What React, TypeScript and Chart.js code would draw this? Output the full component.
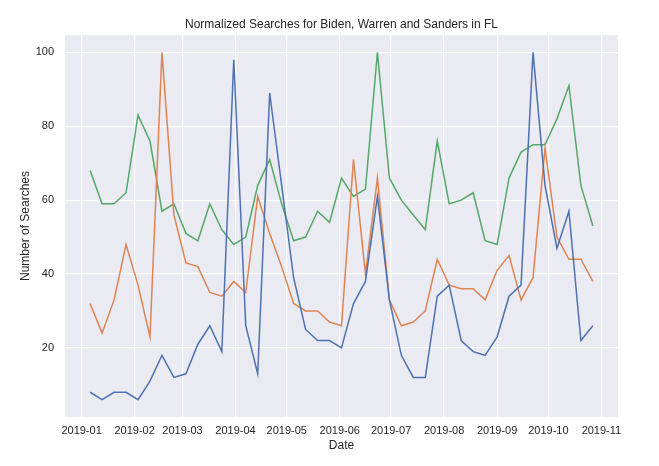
import React, { useEffect, useRef } from "react";
import { Chart, registerables } from "chart.js";

Chart.register(...registerables);

// weekly Google Trends dates (week start)
const weeks: string[] = [
  "2019-01-06", "2019-01-13", "2019-01-20", "2019-01-27", "2019-02-03",
  "2019-02-10", "2019-02-17", "2019-02-24", "2019-03-03", "2019-03-10",
  "2019-03-17", "2019-03-24", "2019-03-31", "2019-04-07", "2019-04-14",
  "2019-04-21", "2019-04-28", "2019-05-05", "2019-05-12", "2019-05-19",
  "2019-05-26", "2019-06-02", "2019-06-09", "2019-06-16", "2019-06-23",
  "2019-06-30", "2019-07-07", "2019-07-14", "2019-07-21", "2019-07-28",
  "2019-08-04", "2019-08-11", "2019-08-18", "2019-08-25", "2019-09-01",
  "2019-09-08", "2019-09-15", "2019-09-22", "2019-09-29", "2019-10-06",
  "2019-10-13", "2019-10-20", "2019-10-27",
];

const biden: number[] = [
  8, 6, 8, 8, 6, 11, 18, 12, 13, 21, 26, 19, 98, 26, 13, 89, 64, 39, 25, 22,
  22, 20, 32, 38, 61, 33, 18, 12, 12, 34, 37, 22, 19, 18, 23, 34, 37, 100, 64,
  47, 57, 22, 26,
];

const warren: number[] = [
  32, 24, 33, 48, 37, 23, 100, 56, 43, 42, 35, 34, 38, 35, 61, 51, 42, 32, 30,
  30, 27, 26, 71, 40, 66, 33, 26, 27, 30, 44, 37, 36, 36, 33, 41, 45, 33, 39,
  74, 50, 44, 44, 38,
];

const sanders: number[] = [
  68, 59, 59, 62, 83, 76, 57, 59, 51, 49, 59, 52, 48, 50, 64, 71, 59, 49, 50,
  57, 54, 66, 61, 63, 100, 66, 60, 56, 52, 76, 59, 60, 62, 49, 48, 66, 73, 75,
  75, 82, 91, 64, 53,
];

const monthTicks: string[] = [
  "2019-01", "2019-02", "2019-03", "2019-04", "2019-05", "2019-06",
  "2019-07", "2019-08", "2019-09", "2019-10", "2019-11",
];

const yTicks: number[] = [20, 40, 60, 80, 100];

// days since 2019-01-01
const dayOf = (s: string): number => {
  const [y, m, d] = s.split("-").map(Number);
  return (Date.UTC(y, m - 1, d || 1) - Date.UTC(2019, 0, 1)) / 86400000;
};

const TEXT = "#262626";
const FONT = "'Liberation Sans', Arial, sans-serif";

const plotBg = {
  id: "plotBg",
  beforeDraw(chart: Chart) {
    const { ctx, chartArea: a } = chart;
    ctx.save();
    ctx.fillStyle = "#EAEAF2";
    ctx.fillRect(a.left, a.top, a.right - a.left, a.bottom - a.top);
    ctx.restore();
  },
};

const App: React.FC = () => {
  const canvasRef = useRef<HTMLCanvasElement>(null);

  useEffect(() => {
    document.body.style.margin = "0";
    if (!canvasRef.current) return;
    const ctx = canvasRef.current.getContext("2d");
    if (!ctx) return;

    const xs = weeks.map(dayOf);
    const span = xs[xs.length - 1] - xs[0];
    const tickDays = monthTicks.map(dayOf);
    const toPts = (vals: number[]) => vals.map((v, i) => ({ x: xs[i], y: v }));

    const chart = new Chart(ctx, {
      type: "line",
      data: {
        datasets: [
          { label: "Biden", data: toPts(biden), borderColor: "#4C72B0" },
          { label: "Warren", data: toPts(warren), borderColor: "#DD8452" },
          { label: "Sanders", data: toPts(sanders), borderColor: "#55A868" },
        ].map((d) => ({
          ...d,
          borderWidth: 1.5,
          pointRadius: 0,
          tension: 0,
          fill: false,
        })),
      },
      options: {
        responsive: false,
        animation: false,
        layout: { padding: { left: 0, right: 41, top: 0, bottom: 0 } },
        plugins: {
          legend: { display: false },
          tooltip: { enabled: false },
          title: {
            display: true,
            fullSize: false,
            text: "Normalized Searches for Biden, Warren and Sanders in FL",
            color: TEXT,
            font: { family: FONT, size: 12, weight: "normal" },
            padding: { top: 17, bottom: 3.6 },
          },
        },
        scales: {
          x: {
            type: "linear",
            min: xs[0] - span * 0.05,
            max: xs[xs.length - 1] + span * 0.05,
            afterBuildTicks: (s: any) => {
              s.ticks = tickDays.map((v) => ({ value: v }));
            },
            afterFit: (s: any) => {
              s.height = 49;
            },
            ticks: {
              autoSkip: false,
              maxRotation: 0,
              padding: 7,
              color: TEXT,
              font: { family: FONT, size: 11 },
              callback: (v: any) => {
                const i = tickDays.indexOf(Number(v));
                return i >= 0 ? monthTicks[i] : "";
              },
            },
            grid: { color: "#FFFFFF", lineWidth: 1.2, drawTicks: false },
            border: { display: false },
            title: {
              display: true,
              text: "Date",
              color: TEXT,
              font: { family: FONT, size: 12 },
              padding: { top: 0, bottom: 13 },
            },
          },
          y: {
            type: "linear",
            min: 6 - 94 * 0.05,
            max: 100 + 94 * 0.05,
            afterBuildTicks: (s: any) => {
              s.ticks = yTicks.map((v) => ({ value: v }));
            },
            afterFit: (s: any) => {
              s.width = 65;
            },
            ticks: {
              padding: 11,
              color: TEXT,
              font: { family: FONT, size: 11 },
            },
            grid: { color: "#FFFFFF", lineWidth: 1.2, drawTicks: false },
            border: { display: false },
            title: {
              display: true,
              text: "Number of Searches",
              color: TEXT,
              font: { family: FONT, size: 12 },
              padding: { top: 18, bottom: 0 },
            },
          },
        },
      },
      plugins: [plotBg],
    });

    return () => {
      chart.destroy();
    };
  }, []);

  return <canvas ref={canvasRef} width={659} height={466}></canvas>;
};

export default App;
